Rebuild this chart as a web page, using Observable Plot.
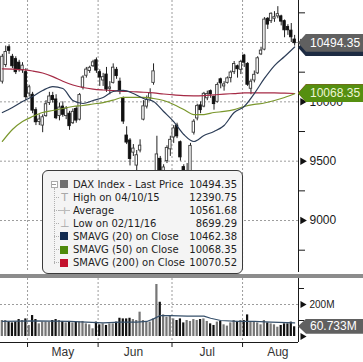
<!DOCTYPE html>
<html><head><meta charset="utf-8">
<script src="https://cdn.jsdelivr.net/npm/d3@7"></script>
<script src="https://cdn.jsdelivr.net/npm/@observablehq/plot@0.6"></script>
<style>
html,body{margin:0;padding:0;background:#fff;}
#wrap{position:relative;width:363px;height:362px;overflow:hidden;font-family:"Liberation Sans",Arial,sans-serif;background:#fff;}
#main,#vol{position:absolute;left:0;}
#main{top:0;}
#vol{top:278px;}
#sep{position:absolute;left:0;top:274px;width:363px;height:4px;background:#8c8c8c;}
.tag{position:absolute;left:298px;width:65px;box-sizing:border-box;padding-left:12px;font-size:12px;white-space:nowrap;
  clip-path:polygon(0 50%,8px 0,100% 0,100% 100%,8px 100%);}
#legend{position:absolute;left:42px;top:170px;width:201px;height:104px;box-sizing:border-box;border:1px solid #3a3a3a;border-radius:6px;background:#f4f4f4;
  font-family:"DejaVu Sans",sans-serif;font-size:10px;color:#1e1e1e;}
.row{position:absolute;left:0;right:0;height:13px;line-height:13px;}
.lab{position:absolute;left:30px;}
.val{position:absolute;right:5px;}
.sw{position:absolute;left:17px;top:2.5px;width:8px;height:8px;}
.ic{position:absolute;left:17px;width:9px;text-align:center;color:#a8a8a8;font-size:11px;}
</style></head><body>
<div id="wrap">
  <div id="main"></div>
  <div id="sep"></div>
  <div id="vol"></div>
  <div id="legend"></div>
</div>
<script>
const dates = ["2016-04-20","2016-04-21","2016-04-22","2016-04-25","2016-04-26","2016-04-27","2016-04-28","2016-04-29",
"2016-05-02","2016-05-03","2016-05-04","2016-05-05","2016-05-06","2016-05-09","2016-05-10","2016-05-11","2016-05-12","2016-05-13",
"2016-05-17","2016-05-18","2016-05-19","2016-05-20","2016-05-23","2016-05-24","2016-05-25","2016-05-26","2016-05-27","2016-05-30","2016-05-31",
"2016-06-01","2016-06-02","2016-06-03","2016-06-06","2016-06-07","2016-06-08","2016-06-09","2016-06-10","2016-06-13","2016-06-14","2016-06-15",
"2016-06-16","2016-06-17","2016-06-20","2016-06-21","2016-06-22","2016-06-23","2016-06-24","2016-06-27","2016-06-28","2016-06-29","2016-06-30",
"2016-07-01","2016-07-04","2016-07-05","2016-07-06","2016-07-07","2016-07-08","2016-07-11","2016-07-12","2016-07-13","2016-07-14","2016-07-15",
"2016-07-18","2016-07-19","2016-07-20","2016-07-21","2016-07-22","2016-07-25","2016-07-26","2016-07-27","2016-07-28","2016-07-29",
"2016-08-01","2016-08-02","2016-08-03","2016-08-04","2016-08-05","2016-08-08","2016-08-09","2016-08-10","2016-08-11","2016-08-12",
"2016-08-15","2016-08-16","2016-08-17","2016-08-18","2016-08-19","2016-08-22"];
const open = [10170,10310,10460,10380,10360,10330,10265,10250,
10070,10060,9930,9830,9800,9880,9990,10050,10020,9880,9960,9880,9900,9820,9940,9850,10120,10220,10260,10300,10350,
10250,10180,10230,10110,10160,10270,10170,10030,9716,9674,9572,9463,9590,9850,9960,10030,10160,9240,9520,9340,9500,9600,
9700,9800,9660,9450,9400,9410,9740,9860,9970,9960,10030,10090,10040,10000,10190,10130,10160,10200,10250,10300,10270,
10390,10320,10110,10180,10240,10400,10440,10700,10680,10700,10720,10720,10680,10630,10600,10525];
const high = [10400,10470,10480,10400,10380,10350,10330,10280,
10140,10080,9950,9890,9890,10010,10080,10080,10060,9990,10000,9960,9920,9940,9960,10070,10220,10290,10300,10350,10370,
10270,10240,10290,10170,10320,10290,10200,10040,9790,9690,9640,9590,9680,10010,10050,10110,10320,9710,9540,9470,9630,9710,
9800,9820,9670,9470,9480,9650,9850,9980,10000,10080,10090,10100,10050,10160,10200,10170,10210,10260,10340,10310,10350,
10400,10330,10190,10260,10380,10460,10710,10710,10750,10760,10802,10730,10690,10650,10660,10560];
const low = [10150,10290,10400,10280,10230,10250,10240,10010,
10040,9900,9800,9800,9740,9870,9970,9990,9850,9840,9870,9850,9760,9810,9820,9840,10100,10200,10240,10290,10240,
10130,10130,10080,10060,10150,10190,10060,9810,9640,9460,9540,9420,9570,9840,9940,10010,10140,9214,9200,9310,9480,9540,
9650,9690,9500,9330,9380,9390,9720,9840,9900,9950,10010,10030,9930,9990,10110,10090,10150,10160,10230,10200,10230,
10290,10130,10060,10160,10230,10390,10430,10610,10660,10670,10700,10640,10540,10560,10500,10470];
const close = [10380,10420,10430,10300,10250,10270,10305,10039,
10123,9926,9828,9851,9870,9980,10045,10015,9862,9952,9891,9943,9795,9916,9842,10057,10205,10272,10287,10333,10263,
10205,10208,10103,10121,10288,10217,10088,9834,9657,9519,9606,9550,9631,9962,10015,10071,10257,9557,9268,9447,9612,9680,
9776,9709,9532,9373,9418,9629,9833,9964,9930,10068,10066,10063,9981,10142,10156,10147,10198,10247,10319,10275,10337,
10330,10144,10170,10228,10367,10432,10693,10651,10742,10713,10739,10676,10603,10603,10544,10494.35];
// volume, millions of shares
const volume = [100,100,90,85,90,106,100,110,
69,131,106,79,90,90,90,100,106,100,94,85,94,85,90,90,94,79,73,48,90,
73,79,69,79,79,90,114,110,110,114,106,100,152,100,94,90,110,325,214,135,121,131,
110,100,110,85,100,94,106,100,106,110,94,79,69,90,94,73,65,85,100,94,100,
100,135,94,90,85,73,100,85,79,73,58,69,79,79,90,60.733];

// moving averages at every third session
const maIndex = [0,3,6,9,12,15,18,21,24,27,30,33,36,39,42,45,48,51,54,57,60,63,66,69,72,75,78,81,84,87];
const sma20 = [9910,9952,10003,10045,10096,10129,10112,10011,9986,10011,10037,10087,10096,10070,10028,10003,9919,9834,9725,9666,9716,9750,9801,9910,9961,10070,10197,10306,10382,10462.38];
const sma50 = [9666,9767,9834,9876,9910,9927,9944,9961,9969,9982,9994,10015,10037,10037,10037,10028,10011,9978,9935,9893,9893,9910,9919,9935,9961,9978,9990,10011,10037,10068.35];
const sma200 = [10278,10275,10271,10260,10243,10213,10174,10142,10121,10108,10100,10094,10089,10085,10081,10075,10066,10058,10052,10051,10053,10059,10065,10070,10075,10076,10076,10076,10073,10070.52];
const volMaIndex = [0,10,20,25,30,35,40,43,45,47,50,55,60,62,65,70,75,80,87];
const volMa = [94,98,94,90,85,90,90,94,110,131,131,127,127,114,100,94,94,90,85];

const priceTicks = [9000,9500,10000,10500];
const priceLabelTicks = [9000,9500,10000];   // 10500 sits under the last-price callout
const priceMinorTicks = [8750,9250,9750,10250,10750];
const volTicks = [0,200];
const volLabelTicks = [200];
const volMinorTicks = [100,300];
const monthNames = {"05":"May","06":"Jun","07":"Jul","08":"Aug"};

const legendLabels = ["DAX Index - Last Price","High on 04/10/15","Average","Low on 02/11/16","SMAVG (20) on Close","SMAVG (50) on Close","SMAVG (200) on Close"];
const legendValues = ["10494.35","12390.75","10561.68","8699.29","10462.38","10068.35","10070.52"];

const C = {price:"#6f6f6f", sma20:"#2c3d57", sma50:"#7a972c", sma200:"#a52a45",
  sw20:"#112a4f", sw50:"#4f8a0c", sw200:"#c3112d", grid:"#9c9c9c", axis:"#1a1a1a"};

const candles = dates.map((d,i)=>({i, d, o:open[i], h:high[i], l:low[i], c:close[i], v:volume[i], up: close[i] >= open[i]}));
const ups = candles.filter(d=>d.up), downs = candles.filter(d=>!d.up);
const maRows = (arr)=>maIndex.map((i,k)=>({i, v:arr[k]}));
const volMaRows = volMaIndex.map((i,k)=>({i, v:volMa[k]}));

const monthBounds = [];
for (let i=1;i<dates.length;i++) if (dates[i].slice(5,7)!==dates[i-1].slice(5,7)) monthBounds.push(i-0.5);
const monthLabels = [];
for (const m of Object.keys(monthNames)) {
  const i = dates.findIndex(d=>d.slice(5,7)===m && +d.slice(8,10)>=15);
  if (i>=0) monthLabels.push({i, m: monthNames[m]});
}

const xDomain = [-0.55, 88.15];
const yDomain = [8562, 10854];
const vDomain = [-37.5, 362.5];
const font = "Liberation Sans, Arial, sans-serif";

const main = Plot.plot({
  width: 363, height: 274, marginLeft: 0, marginRight: 65, marginTop: 0, marginBottom: 2,
  x: {domain: xDomain, axis: null},
  y: {domain: yDomain},
  style: {fontFamily: font, fontSize: "12px", color: C.axis, background: "transparent", overflow: "visible"},
  marks: [
    Plot.gridY(priceTicks, {stroke: C.grid, strokeOpacity: 1, strokeDasharray: "2,2"}),
    Plot.gridX(monthBounds, {stroke: C.grid, strokeOpacity: 1, strokeDasharray: "2,2"}),
    Plot.ruleX(candles, {x: "i", y1: "l", y2: "h", stroke: "#222", strokeWidth: 1}),
    Plot.rect(ups, {x1: d=>d.i-0.36, x2: d=>d.i+0.36, y1: "o", y2: "c", fill: "#fff", stroke: "#3a3a3a", strokeWidth: 0.9}),
    Plot.rect(downs, {x1: d=>d.i-0.36, x2: d=>d.i+0.36, y1: "c", y2: "o", fill: "#111", stroke: "#111", strokeWidth: 0.9}),
    Plot.line(maRows(sma200), {x: "i", y: "v", stroke: C.sma200, strokeWidth: 1.2, curve: "monotone-x"}),
    Plot.line(maRows(sma50), {x: "i", y: "v", stroke: C.sma50, strokeWidth: 1.2, curve: "monotone-x"}),
    Plot.line(maRows(sma20), {x: "i", y: "v", stroke: C.sma20, strokeWidth: 1.2, curve: "monotone-x"}),
    Plot.ruleX([xDomain[1]], {stroke: C.axis, strokeWidth: 1}),
    Plot.axisY(priceMinorTicks, {anchor: "right", tickSize: 6, tickFormat: ()=>"", label: null, stroke: C.axis}),
    Plot.axisY(priceLabelTicks, {anchor: "right", tickSize: 0, tickPadding: 11, tickFormat: d=>String(d), label: null, fontSize: 12, fill: C.axis}),
    Plot.dot(priceTicks, {x: ()=>xDomain[1], y: d=>d, dx: 4, symbol: "triangle", rotate: 90, r: 2.8, fill: "#111", stroke: null})
  ]
});
document.getElementById("main").appendChild(main);

const vol = Plot.plot({
  width: 363, height: 84, marginLeft: 0, marginRight: 65, marginTop: 0, marginBottom: 20,
  x: {domain: xDomain},
  y: {domain: vDomain},
  style: {fontFamily: font, fontSize: "12px", color: C.axis, background: "transparent", overflow: "visible"},
  marks: [
    Plot.gridY(volLabelTicks, {stroke: C.grid, strokeOpacity: 1, strokeDasharray: "2,2"}),
    Plot.gridX(monthBounds, {stroke: C.grid, strokeOpacity: 1, strokeDasharray: "2,2"}),
    Plot.rect(ups, {x1: d=>d.i-0.33, x2: d=>d.i+0.33, y1: 0, y2: "v", fill: "#767676"}),
    Plot.rect(downs, {x1: d=>d.i-0.33, x2: d=>d.i+0.33, y1: 0, y2: "v", fill: "#111"}),
    Plot.line(volMaRows, {x: "i", y: "v", stroke: "#36506b", strokeWidth: 1.2}),
    Plot.ruleX([xDomain[1]], {stroke: C.axis, strokeWidth: 1}),
    Plot.ruleY([vDomain[0]], {stroke: C.axis, strokeWidth: 1}),
    Plot.axisX(monthBounds, {anchor: "bottom", tickSize: 5, tickFormat: ()=>"", label: null, stroke: C.axis}),
    Plot.text(monthLabels, {x: "i", text: "m", frameAnchor: "bottom", dy: 10, lineAnchor: "middle", fontSize: 12, fill: "#333"}),
    Plot.axisY(volMinorTicks, {anchor: "right", tickSize: 5, tickFormat: ()=>"", label: null, stroke: C.axis}),
    Plot.axisY(volLabelTicks, {anchor: "right", tickSize: 0, tickPadding: 11, tickFormat: d=>d+"M", label: null, fontSize: 10, fill: C.axis}),
    Plot.dot(volTicks, {x: ()=>xDomain[1], y: d=>d, dx: 4, symbol: "triangle", rotate: 90, r: 2.6, fill: "#111", stroke: null})
  ]
});
document.getElementById("vol").appendChild(vol);

// value callouts on the right axis (the SMA20 and SMA200 callouts sit hidden behind the others)
const wrap = document.getElementById("wrap");
function tag(top, h, text, bg, fg, fs) {
  const t = document.createElement("div");
  t.className = "tag";
  t.style.top = (top - h/2) + "px";
  t.style.height = h + "px";
  t.style.lineHeight = h + "px";
  t.style.background = bg;
  t.style.color = fg;
  t.style.fontSize = fs + "px";
  t.textContent = text;
  wrap.appendChild(t);
}
const ys = main.scale("y"), vs = vol.scale("y");
tag(ys.apply(+legendValues[4]) + 1, 18, "", "#1d2b42", "#fff", 12);
tag(ys.apply(close[close.length-1]), 18, legendValues[0], "#606060", "#fff", 12);
tag(ys.apply(+legendValues[6]), 18, "", "#b5152f", "#fff", 12);
tag(ys.apply(+legendValues[5]), 18, legendValues[5], "#558f10", "#eef6d6", 12);
tag(278 + vs.apply(volume[volume.length-1]), 15, volume[volume.length-1] + "M", "#606060", "#fff", 12);

// legend
const lg = document.getElementById("legend");
const swatches = [C.price, null, null, null, C.sw20, C.sw50, C.sw200];
const icons = [null, "T", "+", "\u22A5", null, null, null];
let html = '<div style="position:absolute;left:8px;top:10px;width:5px;height:5px;border:1px solid #aaa;background:#fff;"></div>'
  + '<div style="position:absolute;left:9px;top:12.5px;width:4px;height:1px;background:#999;"></div>'
  + '<div style="position:absolute;left:10.5px;top:17px;width:0;height:76px;border-left:1px dotted #b0b0b0;"></div>';
legendLabels.forEach((lab,k)=>{
  const top = 6.5 + k*13.1;
  html += '<div class="row" style="top:'+top+'px">';
  if (k>0) html += '<div style="position:absolute;left:11px;top:6px;width:5px;height:0;border-top:1px dotted #b0b0b0;"></div>';
  if (swatches[k]) html += '<div class="sw" style="background:'+swatches[k]+'"></div>';
  if (icons[k]) html += '<div class="ic">'+icons[k]+'</div>';
  if (k===2) html += '<div style="position:absolute;left:16px;top:6.5px;width:11px;height:1px;background:#bbb;"></div>';
  html += '<span class="lab">'+lab+'</span><span class="val">'+legendValues[k]+'</span></div>';
});
lg.innerHTML = html;
</script>
</body></html>
